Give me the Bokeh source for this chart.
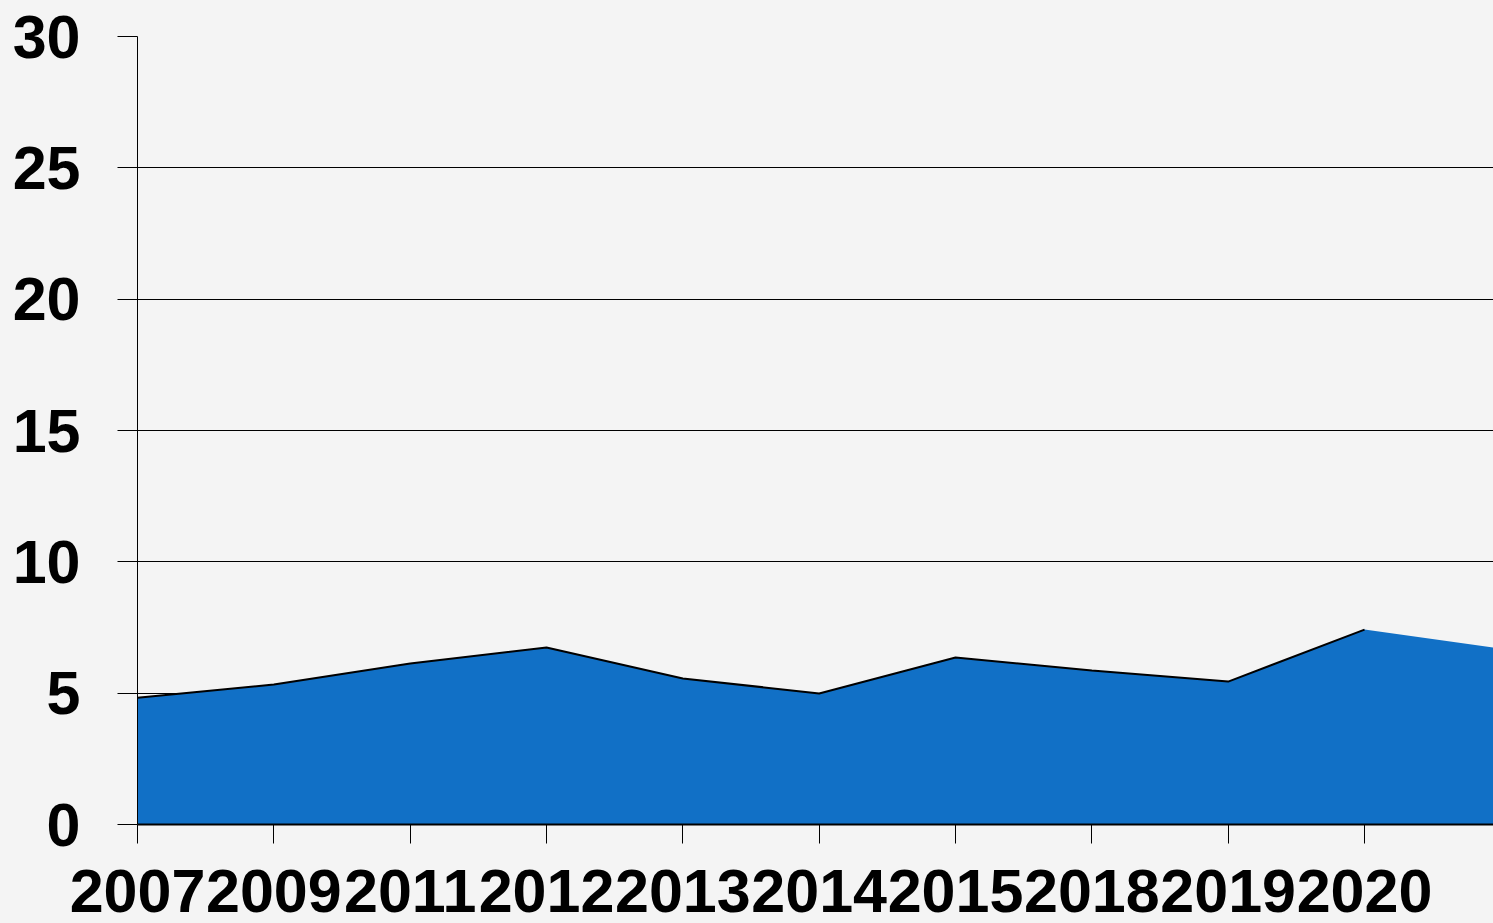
from bokeh.plotting import figure
from bokeh.models import Range1d, FixedTicker
from bokeh.embed import file_html
from bokeh.resources import INLINE

# Data
years = ["2007", "2009", "2011", "2012", "2013", "2014", "2015", "2018", "2019", "2020", "2021"]
values = [4.83, 5.33, 6.13, 6.74, 5.56, 4.99, 6.36, 5.86, 5.44, 7.42, 6.70]
y_ticks = [0, 5, 10, 15, 20, 25, 30]

BG = "#f4f4f4"
FILL = "#1170c6"
FONT = "Liberation Sans"

xs = list(range(len(years)))

p = figure(
    width=1493, height=923,
    output_backend="svg", toolbar_location=None,
    x_range=Range1d(0, 9.946), y_range=Range1d(0, 30),
    min_border_top=36, min_border_left=137, min_border_right=0, min_border_bottom=99,
    background_fill_color=BG, border_fill_color=BG,
)
p.outline_line_color = None

# area
p.varea(x=xs, y1=[0] * len(xs), y2=values, fill_color=FILL)
# outline on top of area (not on the last, partially visible segment)
p.line(x=xs[:10], y=values[:10], line_color="black", line_width=2)

# grid
p.xgrid.visible = False
p.ygrid.ticker = FixedTicker(ticks=y_ticks)
p.ygrid.grid_line_color = "black"
p.ygrid.grid_line_width = 1

# y axis
ya = p.yaxis[0]
ya.ticker = FixedTicker(ticks=y_ticks)
ya.axis_line_color = "black"
ya.axis_line_width = 1
ya.major_tick_line_color = "black"
ya.major_tick_out = 20
ya.major_tick_in = 0
ya.minor_tick_line_color = None
ya.major_label_standoff = 37
ya.major_label_text_font = FONT
ya.major_label_text_font_style = "bold"
ya.major_label_text_font_size = "61px"
ya.major_label_text_color = "black"

# x axis
xa = p.xaxis[0]
xa.ticker = FixedTicker(ticks=xs)
xa.major_label_overrides = {i: y for i, y in zip(xs, years)}
xa.axis_line_color = "black"
xa.axis_line_width = 2
xa.major_tick_line_color = "black"
xa.major_tick_out = 19
xa.major_tick_in = 0
xa.minor_tick_line_color = None
xa.major_label_standoff = 26
xa.major_label_text_font = FONT
xa.major_label_text_font_style = "bold"
xa.major_label_text_font_size = "61px"
xa.major_label_text_color = "black"

html = file_html(p, INLINE)
html = html.replace("<head>", "<head><style>html, body {background: %s;}</style>" % BG, 1)
open("out.html", "w").write(html)
